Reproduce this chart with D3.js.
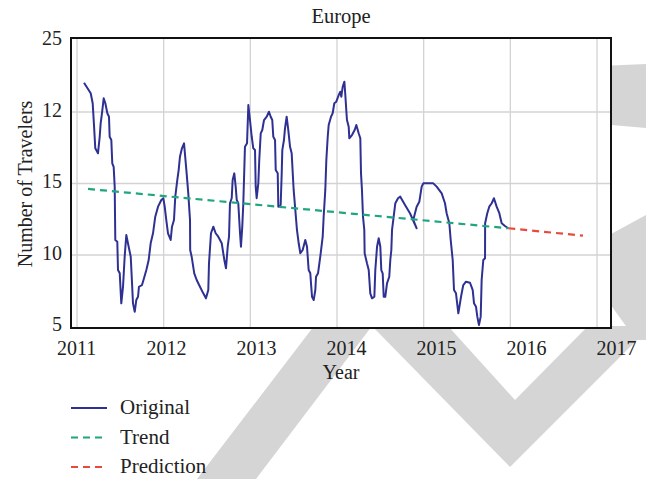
<!DOCTYPE html>
<html>
<head>
<meta charset="utf-8">
<script src="https://cdn.jsdelivr.net/npm/d3@7"></script>
<style>
  html, body { margin: 0; padding: 0; background: #fff; }
  svg { display: block; }
  text { font-family: "Liberation Serif", "Times New Roman", serif; fill: #222; }
</style>
</head>
<body>
<svg id="chart" width="646" height="479"></svg>
<script>
// ---- data ----
const baseYear = 2011;
const years = [2011, 2012, 2013, 2014, 2015, 2016, 2017];
const xTickLabels = ["2011", "2012", "2013", "2014", "2015", "2016", "2017"];
const yTicks = [5, 10, 15, 20, 25];
const yTickLabels = ["5", "10", "15", "12", "25"];

// observed travellers, time given in years after baseYear
const originalT = [
  0.081, 0.158, 0.181, 0.196, 0.211, 0.242, 0.262, 0.273, 0.288, 0.308,
  0.327, 0.350, 0.369, 0.377, 0.396, 0.407, 0.423, 0.435, 0.442, 0.465,
  0.473, 0.493, 0.511, 0.531, 0.550, 0.569, 0.588, 0.620, 0.635, 0.646,
  0.666, 0.684, 0.704, 0.715, 0.750, 0.773, 0.800, 0.827, 0.850, 0.877,
  0.903, 0.935, 0.973, 0.996, 1.012, 1.030, 1.050, 1.081, 1.096, 1.119,
  1.134, 1.157, 1.173, 1.188, 1.211, 1.235, 1.262, 1.284, 1.304, 1.306,
  1.323, 1.353, 1.381, 1.419, 1.457, 1.488, 1.515, 1.523, 1.546, 1.573,
  1.600, 1.630, 1.670, 1.688, 1.700, 1.719, 1.739, 1.754, 1.765, 1.785,
  1.796, 1.815, 1.831, 1.843, 1.861, 1.881, 1.892, 1.907, 1.919, 1.938,
  1.962, 1.977, 1.996, 2.016, 2.034, 2.054, 2.062, 2.073, 2.092, 2.103,
  2.120, 2.138, 2.158, 2.189, 2.215, 2.235, 2.253, 2.265, 2.285, 2.293,
  2.316, 2.323, 2.350, 2.362, 2.369, 2.388, 2.400, 2.419, 2.438, 2.458,
  2.477, 2.500, 2.519, 2.538, 2.558, 2.577, 2.604, 2.634, 2.654, 2.673,
  2.692, 2.700, 2.712, 2.731, 2.750, 2.758, 2.781, 2.807, 2.835, 2.846,
  2.865, 2.877, 2.893, 2.904, 2.931, 2.950, 2.969, 2.992, 3.020, 3.038,
  3.050, 3.066, 3.085, 3.096, 3.107, 3.115, 3.135, 3.142, 3.173, 3.204,
  3.223, 3.250, 3.269, 3.277, 3.288, 3.300, 3.315, 3.319, 3.346, 3.366,
  3.384, 3.404, 3.431, 3.442, 3.462, 3.481, 3.500, 3.511, 3.527, 3.539,
  3.557, 3.577, 3.603, 3.615, 3.627, 3.635, 3.654, 3.673, 3.704, 3.730,
  3.785, 3.842, 3.919, 3.880, 3.919, 3.950, 3.977, 3.996, 4.111, 4.150,
  4.208, 4.246, 4.265, 4.296, 4.312, 4.335, 4.350, 4.373, 4.400, 4.431,
  4.457, 4.488, 4.535, 4.566, 4.581, 4.604, 4.619, 4.638, 4.658, 4.669,
  4.688, 4.708, 4.709, 4.734, 4.757, 4.785, 4.811, 4.842, 4.873, 4.900,
  4.938, 4.976
];
const originalV = [
  22.05, 21.31, 20.61, 19.09, 17.46, 17.11, 18.27, 19.21, 19.91, 20.96,
  20.61, 19.91, 19.67, 18.27, 18.04, 16.41, 16.17, 14.78, 11.05, 10.93,
  8.95, 8.72, 6.62, 7.78, 9.88, 11.40, 10.82, 9.88, 8.02, 6.62,
  6.03, 6.85, 7.08, 7.78, 7.90, 8.37, 8.95, 9.65, 10.82, 11.52,
  12.68, 13.38, 13.85, 13.97, 13.38, 12.45, 11.52, 11.05, 11.98, 12.45,
  14.08, 15.24, 15.94, 16.87, 17.46, 17.81, 15.94, 14.31, 12.45, 10.35,
  9.88, 8.72, 8.25, 7.78, 7.32, 6.97, 7.55, 9.42, 11.52, 11.98,
  11.52, 11.28, 10.82, 10.12, 9.65, 9.07, 10.58, 11.28, 13.62, 13.97,
  15.24, 15.71, 14.78, 13.85, 13.62, 11.52, 10.58, 11.98, 13.62, 17.57,
  17.81, 20.49, 19.44, 18.27, 17.46, 17.34, 14.78, 13.97, 15.01, 16.64,
  18.51, 18.74, 19.44, 19.67, 20.02, 19.67, 19.44, 18.27, 18.04, 15.94,
  15.71, 13.38, 13.50, 15.71, 17.34, 18.04, 18.86, 19.67, 18.74, 17.57,
  17.11, 14.55, 13.15, 11.75, 10.82, 10.12, 10.35, 11.05, 10.58, 8.95,
  8.72, 8.02, 7.08, 6.85, 7.55, 8.48, 8.72, 9.88, 11.28, 12.68,
  14.55, 16.64, 18.27, 19.09, 19.67, 19.91, 20.61, 20.72, 21.19, 21.42,
  21.07, 21.77, 22.12, 21.19, 20.14, 19.44, 18.97, 18.16, 18.39, 18.74,
  19.09, 18.51, 18.16, 15.71, 14.55, 12.68, 11.75, 10.12, 9.42, 8.95,
  7.32, 6.97, 7.08, 8.95, 10.58, 11.17, 10.58, 8.95, 8.72, 7.08,
  7.08, 8.02, 8.48, 9.65, 10.35, 11.75, 12.68, 13.62, 13.97, 14.08,
  13.50, 12.92, 11.87, 12.45, 13.38, 13.73, 14.78, 15.01, 15.01, 14.78,
  14.31, 13.62, 12.92, 12.22, 11.05, 9.65, 7.55, 7.32, 5.92, 7.08,
  7.90, 8.13, 8.06, 7.55, 6.62, 6.38, 5.69, 5.10, 5.69, 8.25,
  9.65, 9.77, 12.22, 12.92, 13.38, 13.62, 13.97, 13.38, 12.92, 12.22,
  12.03, 11.87
];
const trendT = [0.127, 4.976];
const trendV = [14.62, 11.87];
const predictionT = [4.976, 5.838];
const predictionV = [11.87, 11.35];

const seriesNames = ["Original", "Trend", "Prediction"];
const seriesColors = ["#2e3192", "#1fa67f", "#e8493c"];
const seriesDash = [null, "7,5", "7,5"];

// ---- layout ----
const svg = d3.select("#chart");
const frame = { left: 71, right: 611, top: 38, bottom: 328 };

const x = d3.scaleLinear().domain([2011, 2017]).range([77, 597]);
const y = d3.scaleLinear().domain([5, 25]).range([326.5, 40.5]);
// year labels are typeset on a slightly wider spacing than the grid
const xLabel = d3.scaleLinear().domain([2011, 2017]).range([76, 616]);

svg.append("rect").attr("width", 646).attr("height", 479).attr("fill", "#fff");

// background watermark shapes
const wm = svg.append("g").attr("fill", "#d5d5d5");
const wmShapes = [
  [[197, 479], [256, 479], [372, 326], [314, 326]],
  [[372, 326], [448, 326], [515, 400], [588, 326], [646, 326], [646, 331], [510, 467]],
  [[600, 66], [646, 64], [646, 128], [600, 124]],
  [[600, 240], [646, 215], [646, 340], [636, 340], [600, 290]]
];
wm.selectAll("polygon").data(wmShapes).join("polygon")
  .attr("points", d => d.map(p => p.join(",")).join(" "));

// plot background
svg.append("rect")
  .attr("x", frame.left).attr("y", frame.top)
  .attr("width", frame.right - frame.left).attr("height", frame.bottom - frame.top)
  .attr("fill", "#fff");

// grid
const grid = svg.append("g").attr("stroke", "#d3d3d3").attr("stroke-width", 1.3);
grid.selectAll("line.v").data(years).join("line").attr("class", "v")
  .attr("x1", d => x(d)).attr("x2", d => x(d))
  .attr("y1", frame.top).attr("y2", frame.bottom);
grid.selectAll("line.h").data(yTicks.filter(d => d > 5 && d < 25)).join("line").attr("class", "h")
  .attr("x1", frame.left).attr("x2", frame.right)
  .attr("y1", d => y(d)).attr("y2", d => y(d));

// series
const line = d3.line().x(d => x(baseYear + d[0])).y(d => y(d[1]));
const seriesData = [
  d3.zip(originalT, originalV),
  d3.zip(trendT, trendV),
  d3.zip(predictionT, predictionV)
];
svg.append("g").selectAll("path").data(seriesData).join("path")
  .attr("d", line)
  .attr("fill", "none")
  .attr("stroke", (d, i) => seriesColors[i])
  .attr("stroke-width", (d, i) => i === 0 ? 2 : 2.2)
  .attr("stroke-dasharray", (d, i) => seriesDash[i])
  .attr("stroke-linejoin", "round");

// frame
svg.append("rect")
  .attr("x", frame.left).attr("y", frame.top)
  .attr("width", frame.right - frame.left).attr("height", frame.bottom - frame.top)
  .attr("fill", "none").attr("stroke", "#111").attr("stroke-width", 2);

// axes
const xAxis = svg.append("g")
  .attr("transform", `translate(0,${frame.bottom})`)
  .call(d3.axisBottom(x).tickValues(years).tickSize(0).tickPadding(13)
    .tickFormat((d, i) => xTickLabels[i]));
xAxis.select(".domain").remove();
xAxis.selectAll("text")
  .attr("x", d => xLabel(d) - x(d))
  .style("font-family", '"Liberation Serif", serif')
  .style("font-size", "20px").attr("fill", "#222");

const yAxis = svg.append("g")
  .attr("transform", `translate(${frame.left},0)`)
  .call(d3.axisLeft(y).tickValues(yTicks).tickSize(0).tickPadding(9)
    .tickFormat((d, i) => yTickLabels[i]));
yAxis.select(".domain").remove();
yAxis.selectAll("text")
  .attr("dy", "0.2em")
  .style("font-family", '"Liberation Serif", serif')
  .style("font-size", "20px").attr("fill", "#222");

// titles
svg.append("text").attr("x", 341).attr("y", 23).attr("text-anchor", "middle")
  .style("font-size", "20.5px").text("Europe");
svg.append("text").attr("x", 341).attr("y", 379).attr("text-anchor", "middle")
  .style("font-size", "20px").text("Year");
svg.append("text").attr("transform", "translate(32,184) rotate(-90)")
  .attr("text-anchor", "middle").style("font-size", "20px").text("Number of Travelers");

// legend
const legend = svg.append("g").attr("transform", "translate(71,408)");
const item = legend.selectAll("g").data(seriesNames).join("g")
  .attr("transform", (d, i) => `translate(0,${i * 29.5})`);
item.append("line").attr("x1", 0).attr("x2", 36).attr("y1", 0).attr("y2", 0)
  .attr("stroke", (d, i) => seriesColors[i]).attr("stroke-width", 2)
  .attr("stroke-dasharray", (d, i) => seriesDash[i]);
item.append("text").attr("x", 49).attr("dy", "0.3em")
  .style("font-size", "21px").text(d => d);
</script>
</body>
</html>
